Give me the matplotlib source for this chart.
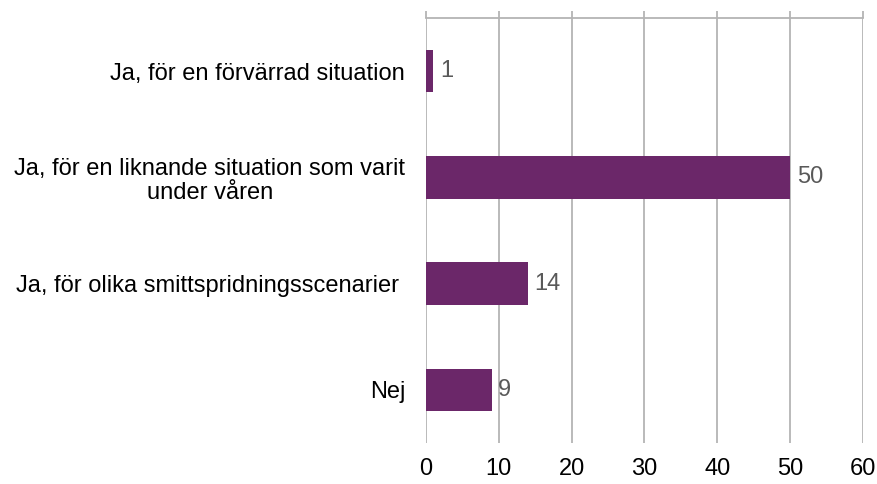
import numpy as np
import matplotlib.pyplot as plt

plt.rcParams['font.family'] = ['Liberation Sans', 'DejaVu Sans']

categories = ['Ja, för en förvärrad situation',
              'Ja, för en liknande situation som varit\nunder våren',
              'Ja, för olika smittspridningsscenarier ',
              'Nej']
values = [1, 50, 14, 9]
xticks = [0, 10, 20, 30, 40, 50, 60]

fig = plt.figure(figsize=(8.78, 4.84), dpi=100)
ax = fig.add_axes([0.4852, 0.0847, 0.4977, 0.8781])

y = np.arange(len(categories))
ax.barh(y, values, height=0.4, color='#6B2769', zorder=3)
# value labels to the right of each bar
for yi, v in zip(y, values):
    ax.text(v + 0.9, yi, str(v), va='center', ha='left', fontsize=17, color='#595959')

ax.set_ylim(3.5, -0.5)
ax.set_xlim(0, 60)
ax.set_xticks(xticks)
ax.xaxis.grid(True, color='#B4B4B4', linewidth=1.3, zorder=0)
ax.set_yticks(y)
ax.set_yticklabels(categories, fontsize=17, multialignment='center', linespacing=1.15)
ax.tick_params(axis='y', length=0, pad=15)
ax.tick_params(axis='x', top=True, bottom=False, labeltop=False, labelbottom=True,
               length=5, width=1.3, color='#B4B4B4', labelsize=17, pad=6)
for s in ['left', 'right', 'bottom']:
    ax.spines[s].set_visible(False)
ax.spines['top'].set_color('#B4B4B4')
ax.spines['top'].set_linewidth(1.3)

fig.savefig('out.png', dpi=100)
